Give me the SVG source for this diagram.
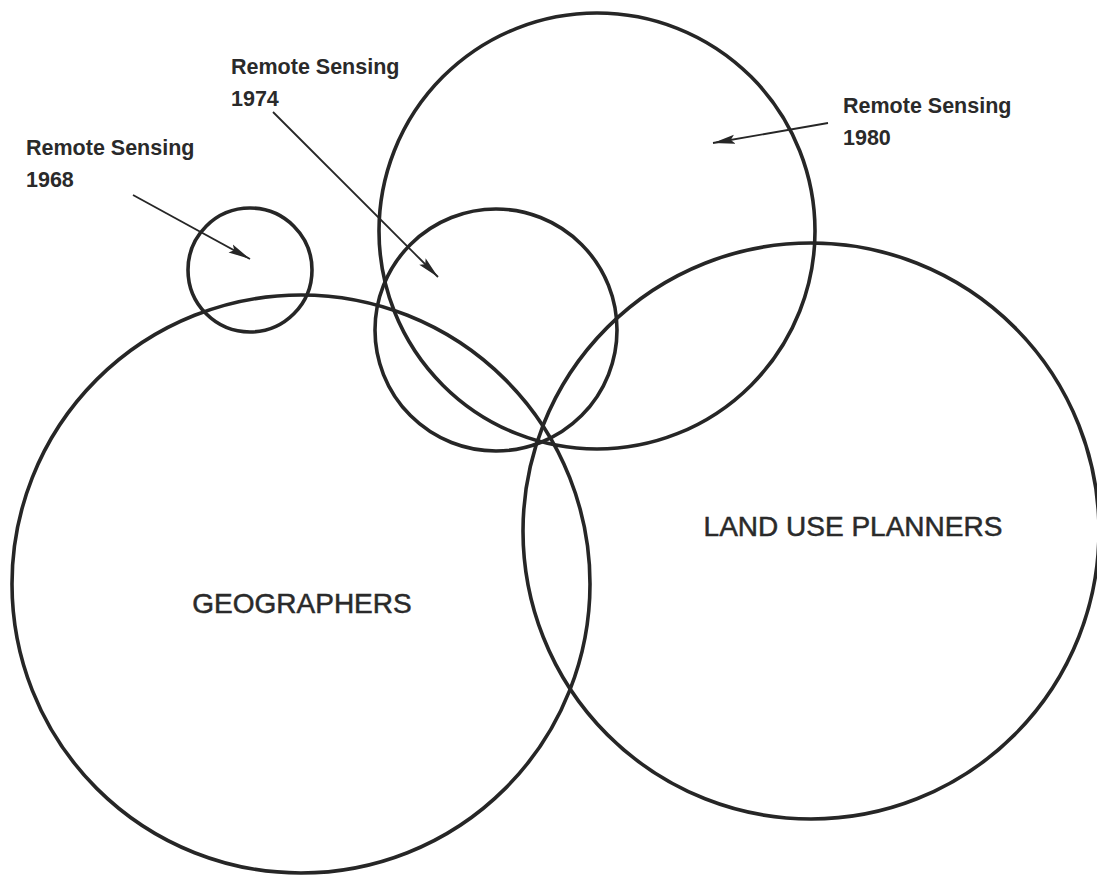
<svg xmlns="http://www.w3.org/2000/svg" width="1097" height="876" viewBox="0 0 1097 876">
<style>
.c{fill:none;stroke:#262626;stroke-width:3.6}
.a{fill:none;stroke:#262626;stroke-width:1.8}
.s{font-family:"Liberation Sans",Arial,sans-serif;font-size:21.5px;font-weight:bold;fill:#2a2a2a}
.b{font-family:"Liberation Sans",Arial,sans-serif;font-size:28px;fill:#2a2a2a;stroke:#2a2a2a;stroke-width:0.5}
</style>
<defs>
<marker id="ah" markerUnits="userSpaceOnUse" markerWidth="24" markerHeight="10" refX="22" refY="5" orient="auto">
<path d="M0,0.5 L22,5 L0,9.5 L4,5 z" fill="#262626"/>
</marker>
</defs>
<rect width="1097" height="876" fill="#fff"/>
<g id="rs1968">
<circle class="c" cx="250" cy="270" r="62"/>
<text class="s" x="26" y="155">Remote Sensing</text>
<text class="s" x="26" y="187">1968</text>
</g>
<g id="rs1980">
<circle class="c" cx="597" cy="231" r="218"/>
<text class="s" x="843" y="113">Remote Sensing</text>
<text class="s" x="843" y="145">1980</text>
</g>
<g id="rs1974">
<circle class="c" cx="496" cy="330" r="121"/>
<text class="s" x="231" y="74">Remote Sensing</text>
<text class="s" x="231" y="106">1974</text>
</g>
<g id="geographers">
<circle class="c" cx="301" cy="584" r="289"/>
<text class="b" x="302" y="613" text-anchor="middle">GEOGRAPHERS</text>
</g>
<g id="landuse">
<circle class="c" cx="811" cy="531" r="288"/>
<text class="b" x="853" y="536" text-anchor="middle">LAND USE PLANNERS</text>
</g>
<g id="connectors">
<line class="a" x1="133" y1="195" x2="250" y2="259" marker-end="url(#ah)"/>
<line class="a" x1="273" y1="112" x2="438" y2="277" marker-end="url(#ah)"/>
<line class="a" x1="828" y1="123" x2="713" y2="143" marker-end="url(#ah)"/>
</g>
</svg>
